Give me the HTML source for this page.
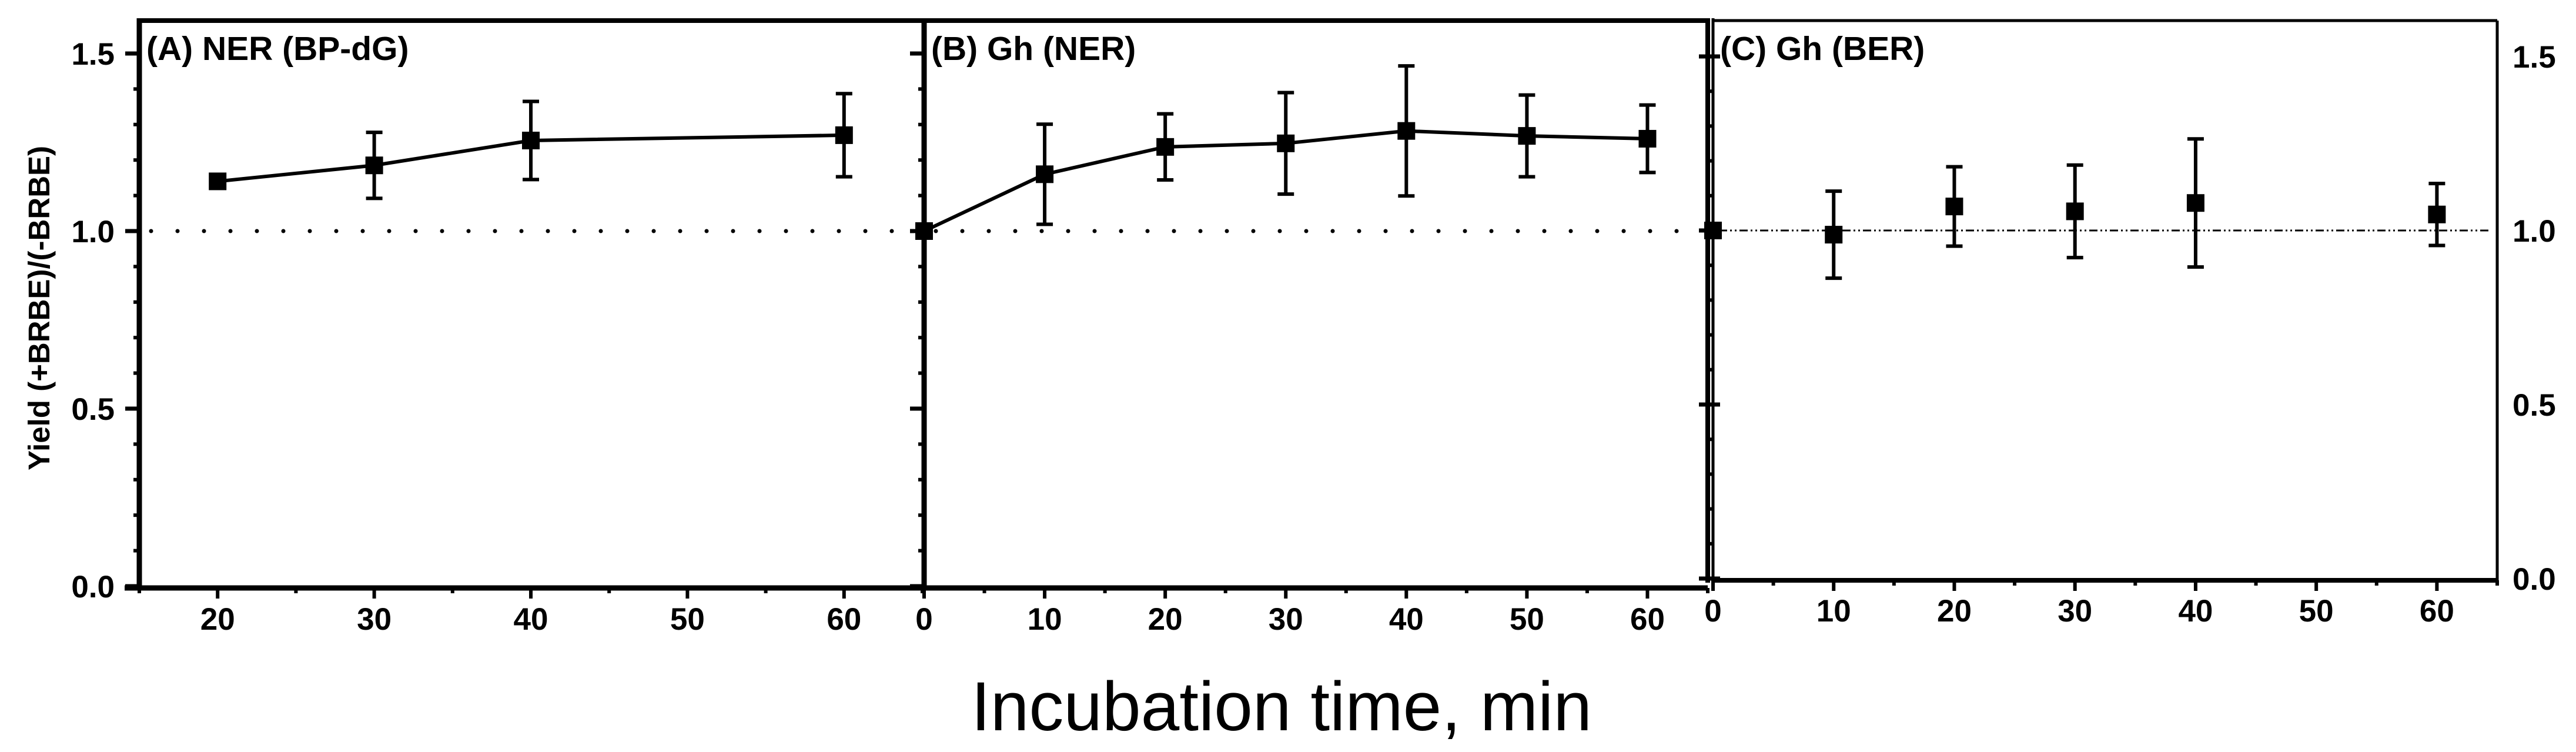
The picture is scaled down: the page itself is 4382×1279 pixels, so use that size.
<!DOCTYPE html>
<html>
<head>
<meta charset="utf-8">
<style>
html,body{margin:0;padding:0;background:#fff;}
svg{display:block;}
text{font-family:"Liberation Sans",Arial,sans-serif;}
</style>
</head>
<body>
<svg id="chart" width="4382" height="1279" viewBox="0 0 4382 1279" xmlns="http://www.w3.org/2000/svg">
<g id="layer"></g>
<text x="2180" y="1242" font-size="118" text-anchor="middle" fill="#000">Incubation time, min</text>
<text transform="translate(84,524) rotate(-90)" font-size="51" font-weight="bold" text-anchor="middle" fill="#000">Yield (+BRBE)/(-BRBE)</text>
</svg>
<script>
// Panel A: NER (BP-dG)
const timesA = [20, 30, 40, 60];
const valuesA = [1.14, 1.185, 1.255, 1.27];
const errorsA = [0.0, 0.093, 0.11, 0.117];
// Panel B: Gh (NER)
const timesB = [0, 10, 20, 30, 40, 50, 60];
const valuesB = [1.0, 1.16, 1.237, 1.247, 1.282, 1.268, 1.26];
const errorsB = [0.0, 0.141, 0.093, 0.143, 0.183, 0.115, 0.095];
// Panel C: Gh (BER)
const timesC = [0, 10, 20, 30, 40, 60];
const valuesC = [1.0, 0.988, 1.069, 1.055, 1.079, 1.046];
const errorsC = [0.0, 0.125, 0.114, 0.133, 0.184, 0.089];
const yTickLabels = ["0.0", "0.5", "1.0", "1.5"];
const xTicksA = [20, 30, 40, 50, 60];
const xTicksBC = [0, 10, 20, 30, 40, 50, 60];

const NS = "http://www.w3.org/2000/svg";
const layer = document.getElementById("layer");
function mk(tag, attrs, parent) {
  const e = document.createElementNS(NS, tag);
  for (const k in attrs) e.setAttribute(k, attrs[k]);
  (parent || layer).appendChild(e);
  return e;
}
function scale(d0, d1, r0, r1) { return v => r0 + (v - d0) * (r1 - r0) / (d1 - d0); }

const panels = [
  {key:"a", title:"(A) NER (BP-dG)", x0:237, x1:1569, xmin:15, xmax:65, yb:1000, yt:35, y0:997, yunit:604,
   t:timesA, v:valuesA, e:errorsA, ticks:xTicksA, line:true, ref:"dots", labY:1071, axisW:9, frameW:8, leftLabels:true},
  {key:"b", title:"(B) Gh (NER)", x0:1572, x1:2905, xmin:0, xmax:65, yb:1000, yt:35, y0:997, yunit:604,
   t:timesB, v:valuesB, e:errorsB, ticks:xTicksBC, line:true, ref:"dots", labY:1071, axisW:9, frameW:8, leftLabels:false},
  {key:"c", title:"(C) Gh (BER)", x0:2914, x1:4248, xmin:0, xmax:65, yb:987, yt:35, y0:984, yunit:592,
   t:timesC, v:valuesC, e:errorsC, ticks:xTicksBC, line:false, ref:"dashdot", labY:1057, axisW:8, frameW:5, rightLabels:true}
];

panels.forEach(p => {
  const g = mk("g", {});
  
  
  const X = scale(p.xmin, p.xmax, p.x0, p.x1);
  const Y = v => p.y0 - v * p.yunit;

  const ref = mk("line", {x1:p.x0 + (p.ref === "dots" ? 20 : 10), x2:p.x1 - 10, y1:Y(1), y2:Y(1), stroke:"#000",
    "stroke-width": p.ref === "dots" ? 7 : 3, "stroke-linecap": p.ref === "dots" ? "round" : "butt",
    "stroke-dasharray": p.ref === "dots" ? "0 45" : "14 5 3 5 3 5"}, g);
  
  

  const top = mk("line", {x1:p.x0, x2:p.x1, y1:p.yt, y2:p.yt, stroke:"#000", "stroke-width":p.frameW}, g);
  
  
  if (p.key === "c") {
    const r = mk("line", {x1:p.x1, x2:p.x1, y1:p.yt, y2:p.yb, stroke:"#000", "stroke-width":5}, g);
    
    
  }
  const la = mk("line", {x1:p.x0, x2:p.x0, y1:p.yt - 4, y2:p.yb + 4, stroke:"#000", "stroke-width":p.key === "c" ? 5 : p.axisW}, g);
  
  
  if (p.key === "c") {
    const la2 = mk("line", {x1:p.x0 - 9, x2:p.x0 - 9, y1:p.yt - 4, y2:p.yb + 4, stroke:"#000", "stroke-width":8}, g);
    
    
  }
  const ba = mk("line", {x1:p.x0 - (p.key === "a" ? 25 : 0), x2:p.x1, y1:p.yb, y2:p.yb, stroke:"#000", "stroke-width":p.axisW}, g);
  
  

  for (let i = 0; i <= 15; i++) {
    const v = i / 10, major = i % 5 === 0;
    const ext = (p.key === "c" && major) ? 12 : 0;
    const tk = mk("line", {x1:p.x0 - (major ? 24 : 10), x2:p.x0 + ext, y1:Y(v), y2:Y(v), stroke:"#000", "stroke-width":major ? 7 : 6}, g);
    
    
  }
  yTickLabels.forEach(lbl => {
    const v = parseFloat(lbl);
    if (p.leftLabels) {
      const t = mk("text", {x:p.x0 - 42, y:Y(v) + 19, "font-size":53, "font-weight":"bold", "text-anchor":"end"}, g);
      t.textContent = lbl;
      
      
    }
    if (p.rightLabels) {
      const t = mk("text", {x:p.x1 + 26, y:Y(v) + 19, "font-size":53, "font-weight":"bold", "text-anchor":"start"}, g);
      t.textContent = lbl;
      
      
    }
  });

  for (let v = Math.ceil(p.xmin / 5) * 5; v <= p.xmax; v += 5) {
    const major = v % 10 === 0;
    const tk = mk("line", {x1:X(v), x2:X(v), y1:p.yb, y2:p.yb + (major ? 18 : 9), stroke:"#000", "stroke-width":6}, g);
    
    
  }
  p.ticks.forEach(v => {
    const t = mk("text", {x:X(v), y:p.labY, "font-size":53, "font-weight":"bold", "text-anchor":"middle"}, g);
    t.textContent = String(v);
    
    
  });

  const tt = mk("text", {x:p.x0 + 12, y:102, "font-size":57, "font-weight":"bold"}, g);
  tt.textContent = p.title;
  
  

  if (p.line) {
    const pts = p.t.map((t, i) => X(t) + "," + Y(p.v[i])).join(" ");
    const pl = mk("polyline", {points:pts, fill:"none", stroke:"#000", "stroke-width":6}, g);
    
    
  }
  p.t.forEach((t, i) => {
    const cx = X(t), cy = Y(p.v[i]), e = p.e[i];
    if (e > 0) {
      const eb = mk("path", {d:`M${cx},${Y(p.v[i] + e)}V${Y(p.v[i] - e)}M${cx - 14},${Y(p.v[i] + e)}H${cx + 14}M${cx - 14},${Y(p.v[i] - e)}H${cx + 14}`,
        stroke:"#000", "stroke-width":6, fill:"none"}, g);
      
      
    }
    const m = mk("rect", {x:cx - 15, y:cy - 15, width:30, height:30, fill:"#000"}, g);
    
    
  });
});
</script>
</body>
</html>
